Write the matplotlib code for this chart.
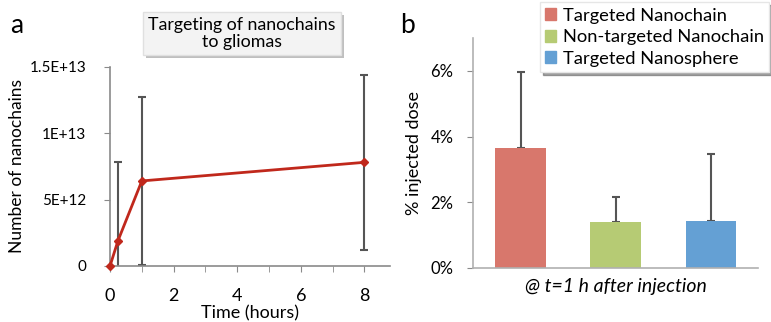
import matplotlib.pyplot as plt
import matplotlib.patheffects as pe
import numpy as np

plt.rcParams['font.family'] = ['Lato', 'DejaVu Sans']

# panel a data
hours = [0, 0.25, 1, 8]
chains = [0, 1.9e12, 6.4e12, 7.8e12]
chains_err = [0, 5.9e12, 6.3e12, 6.6e12]

# panel b data
groups = ['Targeted Nanochain', 'Non-targeted Nanochain', 'Targeted Nanosphere']
dose = [3.65, 1.41, 1.44]
dose_err = [2.32, 0.76, 2.04]
bar_colors = ['#d8776c', '#b6cb74', '#64a0d4']

fig = plt.figure(figsize=(7.71, 3.22), dpi=100)
grey = '#8a8a8a'

# ---- a ----
ax = fig.add_axes([0.1427, 0.174, 0.363, 0.619])
ax.errorbar(hours, chains, yerr=chains_err, fmt='none', ecolor='#555555',
            elinewidth=1.5, capsize=3, capthick=1.5, zorder=1)
ax.plot(hours, chains, color='#c0281c', lw=2, marker='D', ms=4, zorder=3, clip_on=False)
ax.set_xlim(0, 8.8)
ax.set_ylim(0, 1.5e13)
ax.set_xticks([0, 2, 4, 6, 8])
ax.set_xticks(np.arange(0, 9), minor=True)
ax.set_yticks([0, 5e12, 1e13, 1.5e13])
ax.set_yticklabels(['0', '5E+12', '1E+13', '1.5E+13'], fontsize=11)
ax.tick_params(axis='x', labelsize=13, pad=12)
ax.tick_params(axis='y', pad=13)
ax.tick_params(which='both', color=grey, length=4)
ax.set_xlabel('Time (hours)', fontsize=13, labelpad=1)
ax.set_ylabel('Number of nanochains', fontsize=12.5, labelpad=3)
for s in ['top', 'right']:
    ax.spines[s].set_visible(False)
for s in ['left', 'bottom']:
    ax.spines[s].set_color(grey)
    ax.spines[s].set_linewidth(1.2)

fig.text(0.314, 0.895, 'Targeting of nanochains\nto gliomas', ha='center', va='center',
         fontsize=12.8, linespacing=1.05,
         bbox=dict(boxstyle='square,pad=0.3', fc='#f3f3f3', ec='#e0e0e0',
                   path_effects=[pe.withSimplePatchShadow(offset=(2, -2), alpha=0.35)]))

fig.text(0.013, 0.92, 'a', fontsize=19, va='center')
fig.text(0.519, 0.92, 'b', fontsize=19, va='center')

# ---- b ----
bx = fig.add_axes([0.6135, 0.168, 0.37, 0.714])
x = np.arange(len(groups))
bx.bar(x, dose, width=0.53, color=bar_colors, zorder=2)
bx.errorbar(x, dose, yerr=[[0, 0, 0], dose_err], fmt='none', ecolor='#555555',
            elinewidth=1.5, capsize=3, capthick=1.5, zorder=1)
bx.set_xlim(-0.5, 2.5)
bx.set_ylim(0, 7)
bx.set_yticks([0, 2, 4, 6])
bx.set_yticklabels(['0%', '2%', '4%', '6%'], fontsize=12)
bx.set_xticks([])
bx.tick_params(axis='y', color=grey, length=4, pad=10)
bx.set_xlabel('@ t=1 h after injection', fontsize=14, style='italic', labelpad=7)
bx.set_ylabel('% injected dose', fontsize=13, labelpad=6)
for s in ['top', 'right']:
    bx.spines[s].set_visible(False)
for s in ['left', 'bottom']:
    bx.spines[s].set_color('#b0b0b0')
    bx.spines[s].set_linewidth(1.2)

handles = [plt.Rectangle((0, 0), 1, 1, color=c) for c in bar_colors]
leg = fig.legend(handles, groups, loc='upper right', bbox_to_anchor=(1.005, 1.01),
                 fontsize=13.2, handlelength=0.6, handleheight=0.6, handletextpad=0.35,
                 labelspacing=0.3, borderpad=0.3, borderaxespad=0.3, fancybox=False,
                 shadow=True, frameon=True, edgecolor='#e6e6e6', facecolor='white',
                 framealpha=1)

fig.savefig('out.png', dpi=100)
